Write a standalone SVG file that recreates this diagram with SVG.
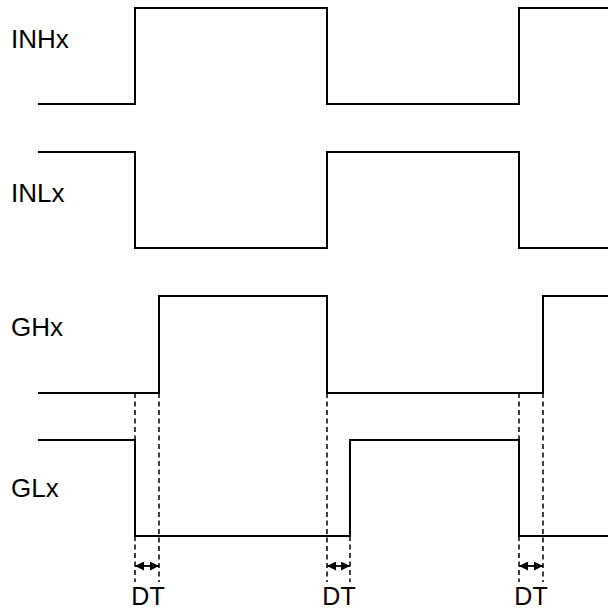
<svg xmlns="http://www.w3.org/2000/svg" width="608" height="612" viewBox="0 0 608 612">
<style>
.sig{fill:none;stroke:#000;stroke-width:2;stroke-linejoin:miter}
.dash{fill:none;stroke:#000;stroke-width:1.5;stroke-dasharray:5,3.5}
.dim{fill:none;stroke:#000;stroke-width:1.8}
.lbl{font-family:"Liberation Sans",Arial,sans-serif;font-size:26px;fill:#000}
.dt{font-family:"Liberation Sans",Arial,sans-serif;font-size:25px;fill:#000;text-anchor:middle}
</style>
<defs>
<marker id="ah" viewBox="0 0 10 10" refX="10" refY="5" markerWidth="9" markerHeight="9" markerUnits="userSpaceOnUse" orient="auto-start-reverse">
<path d="M0,0 L10,5 L0,10 Z" fill="#000"/>
</marker>
</defs>
<rect width="608" height="612" fill="#fff"/>
<g id="INHx">
<text class="lbl" x="11" y="48">INHx</text>
<polyline class="sig" points="38,104 135,104 135,8 327,8 327,104 519,104 519,8 608,8"/>
</g>
<g id="INLx">
<text class="lbl" x="11" y="202">INLx</text>
<polyline class="sig" points="38,152 135,152 135,248 327,248 327,152 519,152 519,248 608,248"/>
</g>
<g id="GHx">
<text class="lbl" x="11" y="336">GHx</text>
<polyline class="sig" points="38,393 159,393 159,296 327,296 327,393 543,393 543,296 608,296"/>
</g>
<g id="GLx">
<text class="lbl" x="11" y="497">GLx</text>
<polyline class="sig" points="38,440 135,440 135,536 350,536 350,440 519,440 519,536 608,536"/>
</g>
<g id="connectors">
<path class="dash" d="M135,393 V440 M135,536 V582 M159,393 V582 M327,393 V582 M350,536 V582 M519,393 V440 M519,536 V582 M543,393 V582"/>
<line class="dim" x1="135" y1="566" x2="159" y2="566" marker-start="url(#ah)" marker-end="url(#ah)"/>
<line class="dim" x1="327" y1="566" x2="350" y2="566" marker-start="url(#ah)" marker-end="url(#ah)"/>
<line class="dim" x1="519" y1="566" x2="543" y2="566" marker-start="url(#ah)" marker-end="url(#ah)"/>
</g>
<g id="DT-labels">
<text class="dt" x="148" y="605">DT</text>
<text class="dt" x="339" y="605">DT</text>
<text class="dt" x="531" y="605">DT</text>
</g>
</svg>
